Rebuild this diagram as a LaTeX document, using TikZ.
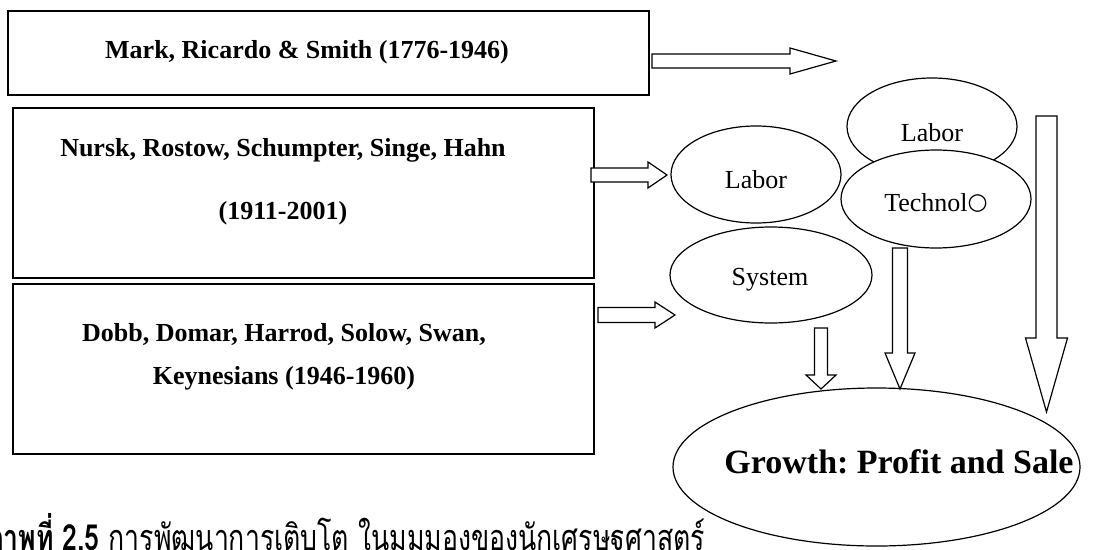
\documentclass[tikz,border=0pt]{standalone}
\usepackage{fontspec}
\setmainfont{Liberation Serif}
\newfontfamily\thaifont[Script=Thai]{Loma}
\newfontfamily\symfont{DejaVu Sans}
\usetikzlibrary{shapes.geometric}
\frenchspacing
\tikzset{
  frame/.style={draw, line width=1.6pt, inner sep=0pt, anchor=north west},
  oval/.style={ellipse, draw, line width=1.2pt, fill=white, inner sep=0pt},
  boxtext/.style={font=\fontsize{26}{30}\selectfont\bfseries, inner sep=0pt, align=center},
  ovaltext/.style={font=\fontsize{26}{30}\selectfont, inner sep=0pt},
  blockarrow/.style={draw, line width=1.2pt, fill=white, line join=miter},
}
% horizontal block arrow: x start, x head base, x tip, y centre, shaft half, head half
\newcommand{\harrow}[6]{%
  \draw[blockarrow] (#1,#4-#5) -- (#2,#4-#5) -- (#2,#4-#6) -- (#3,#4)
    -- (#2,#4+#6) -- (#2,#4+#5) -- (#1,#4+#5) -- cycle;}
% vertical block arrow: x centre, y top, y head base, y tip, shaft half, head half
\newcommand{\varrow}[6]{%
  \draw[blockarrow] (#1-#5,#2) -- (#1+#5,#2) -- (#1+#5,#3) -- (#1+#6,#3) -- (#1,#4)
    -- (#1-#6,#3) -- (#1-#5,#3) -- cycle;}
\begin{document}
\begin{tikzpicture}[x=1pt,y=-1pt]
\useasboundingbox (0,0) rectangle (1118,549);
% boxes
\node[frame, minimum width=641pt, minimum height=84pt] (b1) at (7,10) {};
\node[frame, minimum width=581pt, minimum height=170pt] (b2) at (12,107) {};
\node[frame, minimum width=581pt, minimum height=170pt] (b3) at (12,283) {};
\node[boxtext] (t1) at (307,52) {Mark, Ricardo \& Smith (1776-1946)};
\node[boxtext, font=\fontsize{26}{63}\selectfont\bfseries] (t2) at (283,182) {Nursk, Rostow, Schumpter, Singe, Hahn\\(1911-2001)};
\node[boxtext, font=\fontsize{26}{43}\selectfont\bfseries] (t3) at (284,357) {Dobb, Domar, Harrod, Solow, Swan,\\Keynesians (1946-1960)};
% ellipses
\node[oval, minimum width=170pt, minimum height=97pt] (lab1) at (756,174.5) {};
\node[ovaltext] at (756,180) {Labor};
\node[oval, minimum width=170pt, minimum height=97pt] (lab2) at (932,126.5) {};
\node[ovaltext] at (932,133) {Labor};
\node[oval, minimum width=190pt, minimum height=98pt] (tech) at (936,199) {};
\node[ovaltext] at (936,203) {Technol{\symfont\fontsize{23}{24}\selectfont\raisebox{1.5pt}{○}}};
\node[oval, minimum width=202pt, minimum height=96pt] (sys) at (771,275) {};
\node[ovaltext] at (770,280) {System};
\node[oval, minimum width=407pt, minimum height=158pt] (grow) at (876.5,467) {};
\node[boxtext, font=\fontsize{34}{40}\selectfont\bfseries] at (899,462) {Growth: Profit and Sale};
% arrows
\harrow{652}{790}{836}{61}{7}{13}
\harrow{591}{648}{667}{175}{7}{13}
\harrow{598}{655}{675}{315}{7.5}{13}
\varrow{821}{328}{375}{389}{6.5}{15}
\varrow{900}{248}{353}{389}{7.5}{15}
\varrow{1046.5}{116}{338}{412}{10.5}{21}
% caption
\node[anchor=base west, inner sep=0pt, xscale=0.74, font=\thaifont\fontsize{36}{40}\selectfont] (cap) at (-14,550) {{\bfseries ภาพที่ 2.5} การพัฒนาการเติบโต ในมุมมองของนักเศรษฐศาสตร์};
\end{tikzpicture}
\end{document}
